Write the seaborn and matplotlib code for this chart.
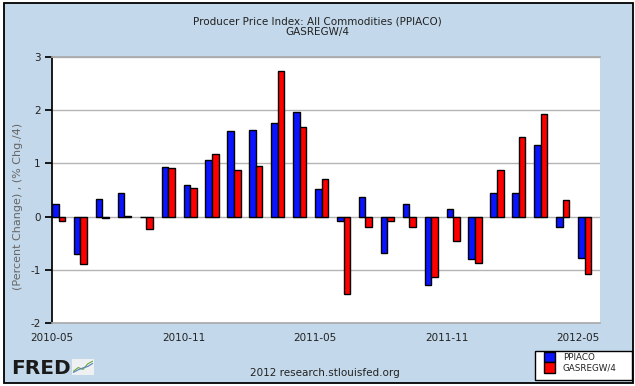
import matplotlib
matplotlib.use("Agg")
import matplotlib.pyplot as plt
from matplotlib.patches import Rectangle
import pandas as pd
import seaborn as sns

# monthly values, % change (PPIACO) and % change / 4 (GASREGW)
months = list(pd.date_range("2010-05", periods=25, freq="MS").strftime("%Y-%m"))
ppiaco = [0.23, -0.70, 0.34, 0.45, 0.00, 0.93, 0.60, 1.07, 1.60, 1.62, 1.75, 1.97,
          0.51, -0.09, 0.36, -0.68, 0.24, -1.28, 0.15, -0.79, 0.45, 0.45, 1.35, -0.19, -0.77]
gasregw = [-0.09, -0.90, -0.03, 0.02, -0.23, 0.91, 0.53, 1.18, 0.87, 0.95, 2.73, 1.69,
           0.70, -1.45, -0.19, -0.08, -0.19, -1.13, -0.45, -0.87, 0.88, 1.49, 1.92, 0.32, -1.07]
series_names = ["PPIACO", "GASREGW/4"]
series_colors = ["#0a14ff", "#ff0000"]
tick_months = ["2010-05", "2010-11", "2011-05", "2011-11", "2012-05"]
y_ticks = [-2, -1, 0, 1, 2, 3]

df = pd.DataFrame({
    "month": months + months,
    "value": ppiaco + gasregw,
    "series": [series_names[0]] * len(months) + [series_names[1]] * len(months),
})

sns.set_theme(style="white")
plt.rcParams["font.family"] = ["DejaVu Sans"]

W, H = 635, 386
fig = plt.figure(figsize=(W / 100, H / 100), dpi=100)
fig.patch.set_facecolor("white")
# light blue FRED panel with black border
fig.patches.append(Rectangle((4 / W, 3 / H), 629 / W, 380 / H,
                             transform=fig.transFigure, facecolor="#c3d8ea",
                             edgecolor="black", linewidth=1.3, zorder=-10))
# white legend box, bottom right
fig.patches.append(Rectangle((535 / W, 6 / H), 97 / W, 29 / H,
                             transform=fig.transFigure, facecolor="white",
                             edgecolor="black", linewidth=1, zorder=-5))

ax = fig.add_axes([52 / W, 63 / H, 548 / W, 266 / H])
sns.barplot(data=df, x="month", y="value", hue="series", order=months,
            palette=series_colors, width=0.6, saturation=1, errorbar=None,
            edgecolor="black", linewidth=1, ax=ax, zorder=3)

ax.set_facecolor("white")
ax.set_ylim(-2, 3)
ax.set_xlim(-0.3, 24.7)
ax.set_yticks(y_ticks)
ax.set_yticklabels([str(t) for t in y_ticks], color="#222222", fontsize=7.5)
ax.set_xticks([months.index(m) - 0.3 for m in tick_months])
ax.set_xticklabels(tick_months, color="#222222", fontsize=7.5)
ax.yaxis.grid(True, color="#b4b4b4", linewidth=1)
ax.set_axisbelow(True)
ax.tick_params(axis="x", direction="in", length=5, color="#999999", pad=7)
ax.tick_params(axis="y", direction="out", length=5, color="black", left=True, pad=3)
for side in ["top", "bottom"]:
    ax.spines[side].set_color("#aaaaaa")
ax.spines["right"].set_visible(False)
ax.spines["left"].set_color("black")
ax.set_xlabel("")
ax.set_ylabel("(Percent Change) , (% Chg./4)", color="#666666", fontsize=8)
ax.yaxis.set_label_coords((23 - 52) / 548, (323 - 206) / 266)

fig.text(0.5, 1 - 21 / H, "Producer Price Index: All Commodities (PPIACO)",
         ha="center", va="center", fontsize=7.5, color="#222222")
fig.text(0.5, 1 - 32 / H, "GASREGW/4", ha="center", va="center",
         fontsize=7.5, color="#222222")
fig.text(325 / W, 1 - 373 / H, "2012 research.stlouisfed.org",
         ha="center", va="center", fontsize=7.5, color="#222222")

# FRED logo: bold wordmark plus a small chart icon
fig.text(11 / W, 1 - 368 / H, "FRED", ha="left", va="center",
         fontsize=14.5, fontweight="bold", color="#1a1a1a")
icon = fig.add_axes([72 / W, 11 / H, 22 / W, 16 / H])
icon.set_facecolor("#eef0f2")
icon.plot([0, 1, 2, 3, 4], [0.5, 1.5, 1.0, 2.5, 3.2], color="#6aaa3a", lw=0.8)
icon.plot([0, 1, 2, 3, 4], [0.2, 0.9, 1.4, 1.8, 2.6], color="#5a7fc0", lw=0.8)
icon.set_xlim(-0.3, 4.3)
icon.set_ylim(-0.5, 3.8)
icon.set_xticks([])
icon.set_yticks([])
for s in icon.spines.values():
    s.set_visible(False)

sns.move_legend(ax, "upper left", bbox_to_anchor=(543 / W, 1 - 351 / H),
                bbox_transform=fig.transFigure, title=None, frameon=False,
                fontsize=6.3, handlelength=1.25, handleheight=1.45,
                handletextpad=0.9, borderpad=0.1, labelspacing=0.0,
                borderaxespad=0)
leg = ax.get_legend()
for t in leg.get_texts():
    t.set_color("#222222")

fig.savefig("out.png", dpi=100)
